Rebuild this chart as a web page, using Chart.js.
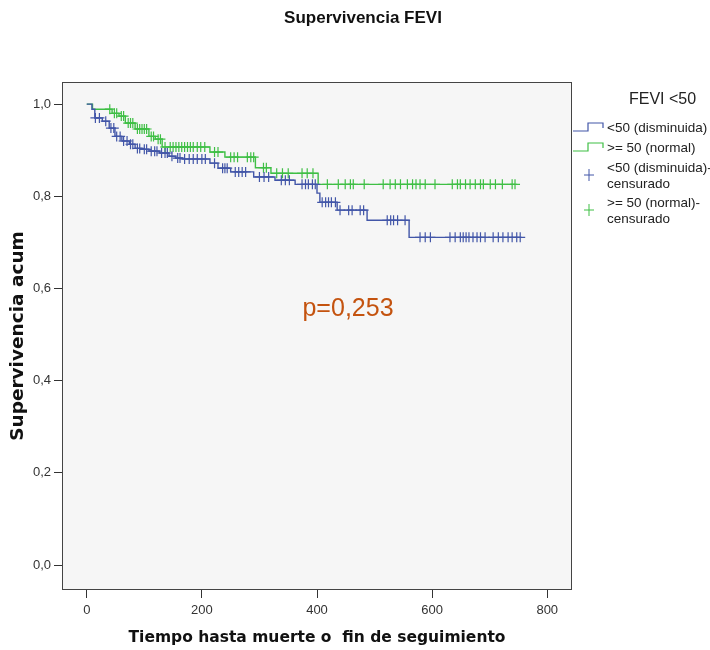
<!DOCTYPE html>
<html><head><meta charset="utf-8">
<script src="https://cdn.jsdelivr.net/npm/chart.js@4.4.0/dist/chart.umd.min.js"></script>
<style>html,body{margin:0;padding:0;background:#fff}#wrap{width:710px;height:650px}</style>
</head><body><div id="wrap"><canvas id="c" width="710" height="650"></canvas></div>
<script>
const xTicks = [0, 200, 400, 600, 800];
const yTicks = [0, 0.2, 0.4, 0.6, 0.8, 1.0];

const groupLabels = ['<50 (disminuida)', '>= 50 (normal)'];
const censorLabels = ['<50 (disminuida)-\ncensurado', '>= 50 (normal)-\ncensurado'];

// <50 (disminuida): event times and survival after each event
const blueTimes = [0, 9, 14, 27, 39, 49, 61, 74, 84, 96, 108, 126, 143, 154, 166, 214, 228, 250, 290, 327, 362, 400, 405, 435, 487, 560];
const blueSurv  = [1.0, 0.989, 0.97, 0.963, 0.948, 0.93, 0.92, 0.913, 0.904, 0.902, 0.898, 0.894, 0.887, 0.883, 0.881, 0.872, 0.861, 0.853, 0.842, 0.835, 0.826, 0.807, 0.787, 0.77, 0.748, 0.711];
const blueEnd = 753;
const blueCensor = [15, 22, 33, 42, 47, 52, 58, 64, 70, 76, 80, 88, 92, 100, 104, 112, 118, 122, 130, 136, 140, 148, 158, 162, 170, 178, 185, 192, 200, 206, 222, 236, 240, 244, 258, 264, 270, 276, 300, 308, 316, 338, 345, 352, 374, 380, 385, 392, 397, 409, 415, 420, 425, 432, 440, 455, 461, 475, 481, 522, 528, 533, 540, 553, 579, 588, 597, 631, 640, 649, 654, 659, 664, 671, 678, 684, 692, 706, 715, 723, 732, 739, 747, 753];

// >= 50 (normal)
const greenTimes = [0, 10, 44, 56, 67, 84, 108, 119, 131, 214, 240, 293, 320, 402];
const greenSurv  = [1.0, 0.989, 0.98, 0.974, 0.959, 0.946, 0.93, 0.924, 0.907, 0.896, 0.885, 0.862, 0.85, 0.826];
const greenEnd = 744;
const greenCensor = [40, 48, 52, 60, 64, 72, 76, 80, 88, 92, 96, 100, 104, 112, 116, 124, 128, 136, 145, 150, 155, 160, 165, 170, 175, 180, 185, 192, 198, 205, 222, 228, 250, 256, 262, 279, 285, 290, 307, 312, 330, 340, 350, 374, 383, 393, 418, 437, 449, 458, 463, 482, 515, 527, 536, 545, 557, 566, 572, 579, 588, 605, 635, 644, 649, 658, 666, 675, 684, 689, 701, 710, 722, 739, 744];

const pText = 'p=0,253';
const titleText = 'Supervivencia FEVI';
const legendTitle = 'FEVI <50';

const BLUE = '#4256a8';
const GREEN = '#3fbf45';

function stepAt(times, surv, t) {
  let s = surv[0];
  for (let i = 0; i < times.length; i++) if (times[i] <= t) s = surv[i];
  return s;
}
function curve(times, surv, end) {
  const pts = times.map((t, i) => ({x: t, y: surv[i]}));
  pts.push({x: end, y: surv[surv.length - 1]});
  return pts;
}
function censorPts(times, surv, cens) {
  return cens.map(t => ({x: t, y: stepAt(times, surv, t)}));
}

const decor = {
  id: 'decor',
  beforeDraw(chart) {
    const {ctx, chartArea: a} = chart;
    ctx.save();
    ctx.fillStyle = '#f6f6f6';
    ctx.fillRect(a.left, a.top, a.right - a.left, a.bottom - a.top);
    ctx.restore();
  },
  afterDraw(chart) {
    const {ctx, chartArea: a} = chart;
    ctx.save();
    ctx.strokeStyle = '#444';
    ctx.lineWidth = 1;
    ctx.strokeRect(a.left + 0.5, a.top + 0.5, a.right - a.left - 1, a.bottom - a.top - 1);

    // title
    ctx.fillStyle = '#111';
    ctx.font = 'bold 17px "Liberation Sans", Arial, sans-serif';
    ctx.textAlign = 'center';
    ctx.textBaseline = 'middle';
    ctx.fillText(titleText, 363, 18);

    // p-value
    ctx.fillStyle = '#c4530f';
    ctx.font = '25px "Liberation Sans", Arial, sans-serif';
    ctx.fillText(pText, 348, 309);

    // legend
    ctx.textAlign = 'left';
    ctx.fillStyle = '#222';
    ctx.font = '16px "Liberation Sans", Arial, sans-serif';
    ctx.fillText(legendTitle, 629, 100);
    ctx.font = '13.5px "Liberation Sans", Arial, sans-serif';
    const icon = (y, col) => {
      ctx.strokeStyle = col; ctx.lineWidth = 1.2;
      ctx.beginPath();
      ctx.moveTo(573, y + 4); ctx.lineTo(588, y + 4); ctx.lineTo(588, y - 4);
      ctx.lineTo(603, y - 4); ctx.lineTo(603, y + 1);
      ctx.stroke();
    };
    icon(127, BLUE);
    ctx.fillText(groupLabels[0], 607, 128);
    icon(147, GREEN);
    ctx.fillText(groupLabels[1], 607, 148);
    const cross = (x, y, col) => {
      ctx.strokeStyle = col; ctx.lineWidth = 1;
      ctx.beginPath();
      ctx.moveTo(x - 5, y); ctx.lineTo(x + 5, y);
      ctx.moveTo(x, y - 6); ctx.lineTo(x, y + 6);
      ctx.stroke();
    };
    cross(589, 175, BLUE);
    const bl = censorLabels[0].split('\n');
    ctx.fillText(bl[0], 607, 168); ctx.fillText(bl[1], 607, 184);
    cross(589, 210, GREEN);
    const gl = censorLabels[1].split('\n');
    ctx.fillText(gl[0], 607, 203); ctx.fillText(gl[1], 607, 219);
    ctx.restore();
  }
};

const tickFont = {family: '"Liberation Sans", Arial, sans-serif', size: 13};
const xTitleFont = {family: '"DejaVu Sans", Verdana, sans-serif', size: 15.5, weight: 'bold'};
const yTitleFont = {family: '"DejaVu Sans", Verdana, sans-serif', size: 18.5, weight: 'bold'};

new Chart(document.getElementById('c'), {
  type: 'scatter',
  data: {
    datasets: [
      {label: groupLabels[0], data: curve(blueTimes, blueSurv, blueEnd), showLine: true, stepped: 'before',
       borderColor: BLUE, borderWidth: 1.4, pointRadius: 0, fill: false, order: 2},
      {label: groupLabels[1], data: curve(greenTimes, greenSurv, greenEnd), showLine: true, stepped: 'before',
       borderColor: GREEN, borderWidth: 1.4, pointRadius: 0, fill: false, order: 3},
      {label: censorLabels[0], data: censorPts(blueTimes, blueSurv, blueCensor), showLine: false,
       pointStyle: 'cross', pointRadius: 5, borderColor: BLUE, backgroundColor: BLUE, borderWidth: 1.2, order: 0},
      {label: censorLabels[1], data: censorPts(greenTimes, greenSurv, greenCensor), showLine: false,
       pointStyle: 'cross', pointRadius: 5, borderColor: GREEN, backgroundColor: GREEN, borderWidth: 1.2, order: 1}
    ]
  },
  options: {
    responsive: false,
    animation: false,
    layout: {padding: {top: 82, right: 138, bottom: 0, left: 0}},
    plugins: {legend: {display: false}, tooltip: {enabled: false}, title: {display: false}},
    scales: {
      x: {
        type: 'linear', min: -43, max: 843,
        afterBuildTicks: s => { s.ticks = xTicks.map(v => ({value: v})); },
        afterFit: s => { s.height = 60; },
        grid: {drawOnChartArea: false, drawTicks: true, tickLength: 8, color: '#333', tickWidth: 1},
        border: {display: false},
        ticks: {color: '#333', font: tickFont, padding: 5, maxRotation: 0, callback: v => String(v)},
        title: {display: true, text: 'Tiempo hasta muerte o  fin de seguimiento', color: '#111', font: xTitleFont, padding: {top: 2, bottom: 3}}
      },
      y: {
        type: 'linear', min: -0.054, max: 1.048,
        afterBuildTicks: s => { s.ticks = yTicks.map(v => ({value: v})); },
        afterFit: s => { s.width = 62; },
        grid: {drawOnChartArea: false, drawTicks: true, tickLength: 8, color: '#333', tickWidth: 1},
        border: {display: false},
        ticks: {color: '#333', font: tickFont, padding: 3, callback: v => v.toFixed(1).replace('.', ',')},
        title: {display: true, text: 'Supervivencia acum', color: '#111', font: yTitleFont, padding: {top: 7, bottom: 4}}
      }
    }
  },
  plugins: [decor]
});
</script>
</body></html>
